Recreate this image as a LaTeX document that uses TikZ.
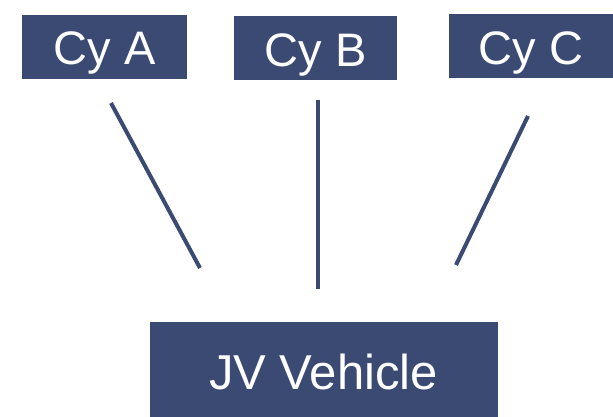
\documentclass[tikz,border=0pt]{standalone}
\usepackage{fontspec}
\setmainfont{Liberation Sans}
\definecolor{boxblue}{RGB}{59,74,114}
\begin{document}
\begin{tikzpicture}[x=1pt,y=-1pt,
  cybox/.style={fill=boxblue,draw=none,text=white,inner sep=0pt,
    minimum height=64pt,text height=50pt,text depth=14pt,
    font=\fontsize{47}{52}\selectfont},
  jvbox/.style={fill=boxblue,draw=none,text=white,inner sep=0pt,
    minimum height=96pt,text height=67pt,text depth=29pt,
    font=\fontsize{49}{56}\selectfont},
  link/.style={draw=boxblue,line width=4pt}]
\useasboundingbox (0,0) rectangle (613,417);
% company boxes
\node[cybox,minimum width=165pt] (cya) at (104.5,47) {Cy A};
\node[cybox,minimum width=163pt] (cyb) at (315.5,48.5) {Cy B};
\node[cybox,minimum width=164pt] (cyc) at (531,46.5) {Cy C};
% joint venture box
\node[jvbox,minimum width=348pt] (jv) at (323.5,370) {JV Vehicle};
% link end points
\coordinate (a1) at (111,103);
\coordinate (a2) at (200,268);
\coordinate (b1) at (318,100);
\coordinate (b2) at (318,289);
\coordinate (c1) at (528,116);
\coordinate (c2) at (456,265);
\draw[link] (a1) -- (a2);
\draw[link] (b1) -- (b2);
\draw[link] (c1) -- (c2);
\end{tikzpicture}
\end{document}
